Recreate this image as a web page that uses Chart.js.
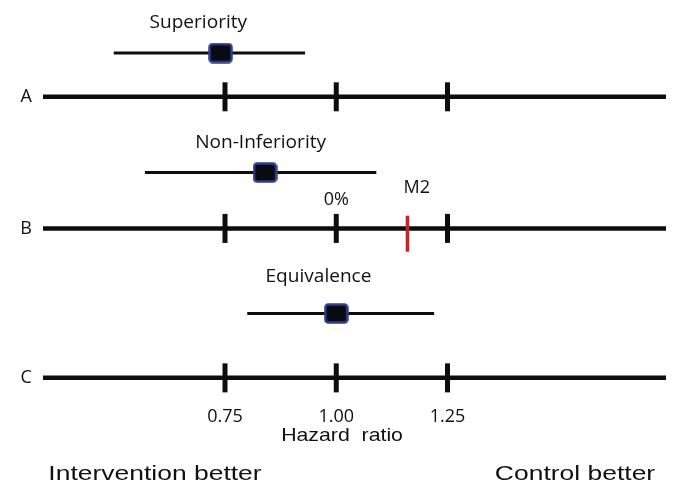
<!DOCTYPE html>
<html>
<head>
<meta charset="utf-8">
<script src="https://cdn.jsdelivr.net/npm/chart.js@4"></script>
<style>
  html, body { margin: 0; padding: 0; background: #fff; }
  #wrap { width: 673px; height: 484px; }
</style>
</head>
<body>
<div id="wrap"><canvas id="trialChart" width="673" height="484"></canvas></div>
<script>
// hazard ratio axis
const axisStart = 0.341;
const axisEnd = 1.741;
const tickValues = [0.75, 1.00, 1.25];
const tickLabels = ['0.75', '1.00', '1.25'];

// trial designs, one row each
const rowNames = ['A', 'B', 'C'];
const designs = ['Superiority', 'Non-Inferiority', 'Equivalence'];
const estimate = [0.74, 0.84, 1.00];
const ciLower = [0.50, 0.57, 0.80];
const ciUpper = [0.93, 1.09, 1.22];
const marginM2 = 1.16;

// vertical placement (hidden y scale, 0..100)
const rowLevel = [76.1, 43.6, 6.7];
const ciLevel = [86.9, 57.4, 22.6];
const titleLevel = [94.3, 64.6, 31.7];
const titleX = [0.69, 0.83, 0.96];

const ink = '#0d0d0d';

// box marker: black square with navy rim
function makeBox() {
    const c = document.createElement('canvas');
    c.width = 25; c.height = 21;
    const g = c.getContext('2d');
    g.fillStyle = '#0a0a12';
    g.strokeStyle = '#2f3d8c';
    g.lineWidth = 2.5;
    g.beginPath();
    g.roundRect(1.5, 1.5, 22, 18, 3);
    g.fill();
    g.stroke();
    return c;
}
const boxMarker = makeBox();

const datasets = [];
rowNames.forEach((name, i) => {
    datasets.push({
        label: 'estimate ' + name,
        data: [{ x: estimate[i], y: ciLevel[i] }],
        pointStyle: boxMarker,
        order: 1
    });
    datasets.push({
        label: 'CI ' + name,
        data: [{ x: ciLower[i], y: ciLevel[i] }, { x: ciUpper[i], y: ciLevel[i] }],
        showLine: true,
        borderColor: ink,
        borderWidth: 3,
        pointRadius: 0,
        order: 2
    });
    datasets.push({
        label: 'ticks ' + name,
        data: tickValues.map(v => ({ x: v, y: rowLevel[i] })),
        pointStyle: 'line',
        rotation: 90,
        pointRadius: 14.5,
        borderColor: ink,
        borderWidth: 5,
        order: 2
    });
    datasets.push({
        label: 'row ' + name,
        data: [{ x: axisStart, y: rowLevel[i] }, { x: axisEnd, y: rowLevel[i] }],
        showLine: true,
        borderColor: ink,
        borderWidth: 4.5,
        pointRadius: 0,
        order: 3
    });
});
datasets.push({
    label: 'M2',
    data: [{ x: marginM2, y: rowLevel[1] - 1.3 }],
    pointStyle: 'line',
    rotation: 90,
    pointRadius: 18,
    borderColor: '#c0262c',
    borderWidth: 3.5,
    order: 1
});

function drawText(ctx, text, x, y, font, sx) {
    ctx.save();
    ctx.translate(x, y);
    ctx.scale(sx, 1);
    ctx.font = font;
    ctx.fillStyle = '#111';
    ctx.textAlign = 'center';
    ctx.textBaseline = 'middle';
    ctx.fillText(text, 0, 0);
    ctx.restore();
}

const annotations = {
    id: 'annotations',
    afterDraw(chart) {
        const ctx = chart.ctx;
        const xs = chart.scales.x, ys = chart.scales.y;
        const px = v => xs.getPixelForValue(v);
        const py = v => ys.getPixelForValue(v);
        const calibri = '18px "Open Sans"';
        designs.forEach((d, i) => {
            drawText(ctx, d, px(titleX[i]), py(titleLevel[i]), calibri, 1.06);
            drawText(ctx, rowNames[i], px(0.303), py(rowLevel[i]), calibri, 1.0);
        });
        drawText(ctx, '0%', px(1.00), py(50.7), calibri, 1.0);
        drawText(ctx, 'M2', px(1.181), py(53.7), calibri, 1.0);
        drawText(ctx, 'Hazard  ratio', px(1.013), 436, '19px "Liberation Sans"', 1.12);
        drawText(ctx, 'Intervention better', 155, 474, '21px "Liberation Sans"', 1.26);
        drawText(ctx, 'Control better', 575, 474, '21px "Liberation Sans"', 1.26);
    }
};

new Chart(document.getElementById('trialChart'), {
    type: 'scatter',
    data: { datasets: datasets },
    options: {
        responsive: false,
        animation: false,
        layout: { autoPadding: false, padding: { left: 43, right: 7, top: 0, bottom: 55.4 } },
        plugins: { legend: { display: false }, tooltip: { enabled: false } },
        scales: {
            x: {
                type: 'linear',
                min: axisStart,
                max: axisEnd,
                afterBuildTicks: scale => { scale.ticks = tickValues.map(v => ({ value: v })); },
                afterFit: scale => { scale.paddingLeft = 0; scale.paddingRight = 0; },
                grid: { display: false, drawTicks: false },
                border: { display: false },
                ticks: {
                    padding: 1,
                    maxRotation: 0,
                    autoSkip: false,
                    color: '#111',
                    font: { family: 'Open Sans', size: 18 },
                    callback: (v) => tickLabels[tickValues.indexOf(v)]
                }
            },
            y: { display: false, min: 0, max: 100 }
        }
    },
    plugins: [annotations]
});
</script>
</body>
</html>
